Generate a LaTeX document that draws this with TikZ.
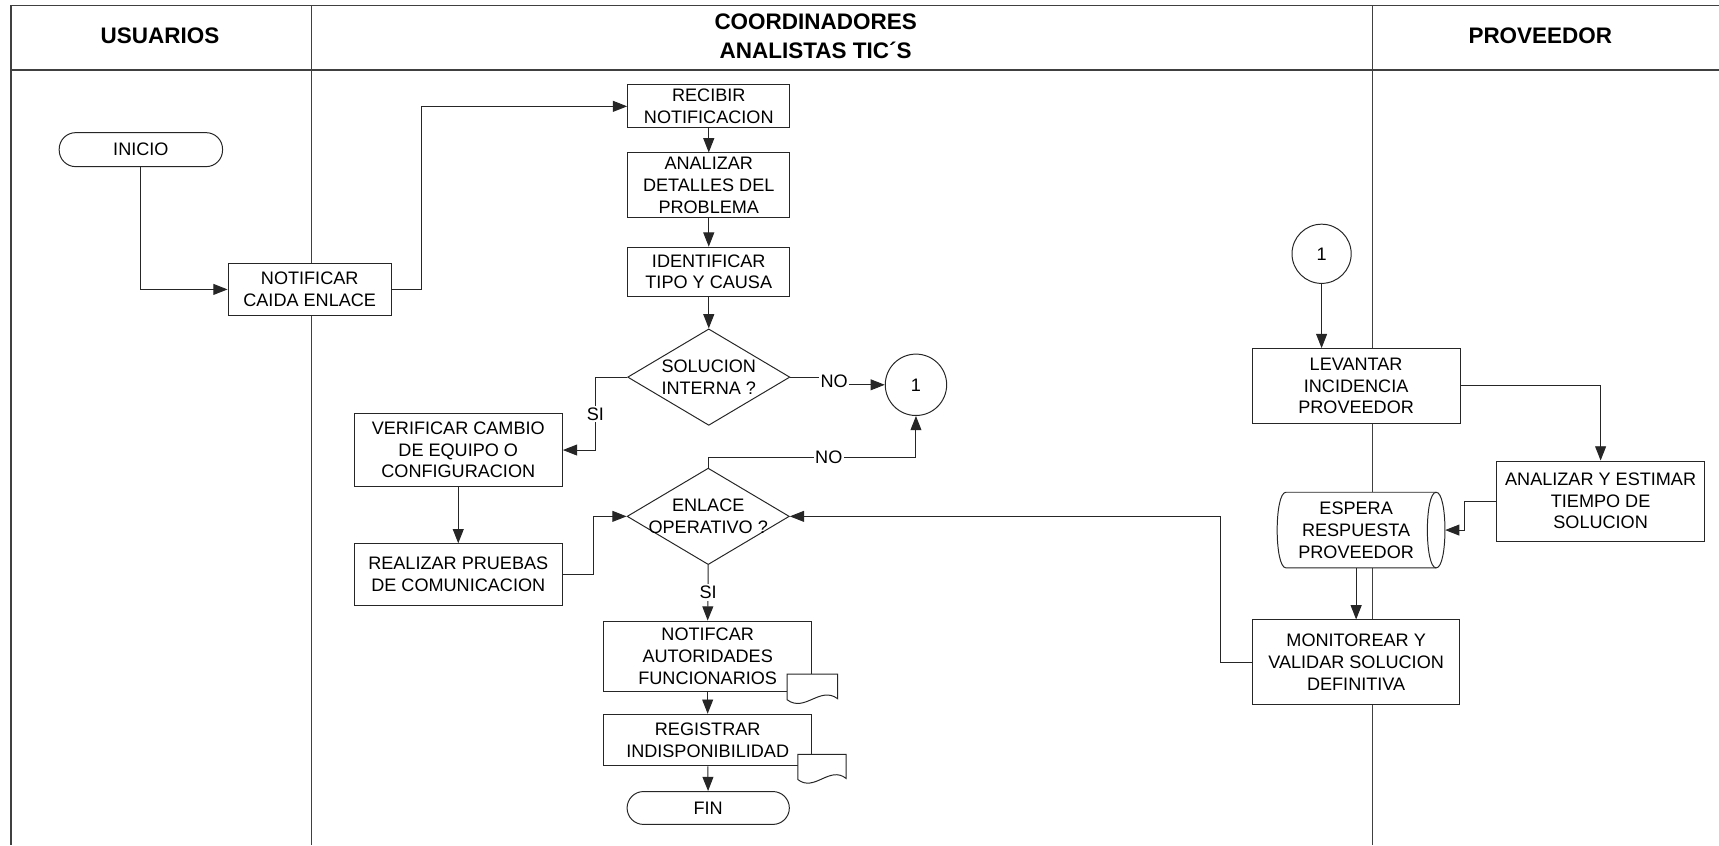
\documentclass[tikz,border=0pt]{standalone}
\usepackage{fontspec}
\setmainfont{Liberation Sans}
\usetikzlibrary{shapes.geometric,arrows.meta,calc}

\newcommand\txtfont{\fontsize{16.5}{19.8}\selectfont}
\newcommand\hdrfont{\fontsize{20.5}{26}\selectfont\bfseries}

\tikzset{
  frame/.style={draw=black!75, line width=1.4pt},
  ln/.style={draw=black!85, line width=0.9pt},
  arr/.style={ln, -{Triangle[length=13pt,width=10pt]}},
  txt/.style={inner sep=0pt, align=center, font=\txtfont},
  box/.style={ln, fill=white, rectangle, inner sep=0pt, align=center, font=\txtfont},
  term/.style={box, rounded corners=15pt},
  dec/.style={ln, fill=white, diamond, inner sep=0pt, minimum width=148pt, minimum height=88pt},
  conn/.style={box, circle},
  lbl/.style={fill=white, inner sep=1.5pt, font=\txtfont},
  hdr/.style={inner sep=0pt, align=center, font=\hdrfont},
}

\begin{document}
\begin{tikzpicture}[x=1pt,y=-1pt]
\useasboundingbox (0,0) rectangle (1568,771);

% lanes and header
\draw[frame] (1568,5) -- (10,5) -- (10,771);
\draw[frame] (10,64) -- (1568,64);
\draw[frame] (284,5) -- (284,771);
\draw[frame] (1252,5) -- (1252,771);

\node[hdr] (hU) at (146,33) {USUARIOS};
\node[hdr] (hC) at (744,33) {COORDINADORES\\ANALISTAS TIC´S};
\node[hdr] (hP) at (1405,33) {PROVEEDOR};

% users lane
\node[term, minimum width=149pt, minimum height=31pt] (inicio) at (128.5,136.5) {INICIO};
\node[box, minimum width=149pt, minimum height=48pt] (notif) at (282.5,264) {NOTIFICAR\\CAIDA ENLACE};

% coordinators lane
\node[box, minimum width=148pt, minimum height=39pt] (recibir) at (646.5,97) {RECIBIR\\NOTIFICACION};
\node[box, minimum width=148pt, minimum height=59pt] (analizar) at (646.5,169) {ANALIZAR\\DETALLES DEL\\PROBLEMA};
\node[box, minimum width=148pt, minimum height=45pt] (ident) at (646.5,248) {IDENTIFICAR\\TIPO Y CAUSA};
\node[dec] (sol) at (646.5,344) {};
\node[txt] (solT) at (sol) {SOLUCION\\INTERNA ?};
\node[conn, minimum size=56pt] (c1) at (835.5,351) {1};
\node[box, minimum width=190pt, minimum height=67pt] (verif) at (418,410.5) {VERIFICAR CAMBIO\\DE EQUIPO O\\CONFIGURACION};
\node[box, minimum width=190pt, minimum height=56pt] (realizar) at (418,524) {REALIZAR PRUEBAS\\DE COMUNICACION};
\node[dec] (enl) at (646,471) {};
\node[txt] (enlT) at (enl) {ENLACE\\OPERATIVO ?};
\node[box, minimum width=190pt, minimum height=64pt] (notifcar) at (645.5,598.5) {NOTIFCAR\\AUTORIDADES\\FUNCIONARIOS};
\node[box, minimum width=190pt, minimum height=47pt] (registrar) at (645.5,675) {REGISTRAR\\INDISPONIBILIDAD};
\node[term, minimum width=148pt, minimum height=30pt] (fin) at (646,737) {FIN};

% document symbols
\draw[ln, fill=white] (718,614.8) -- ++(46,0) -- ++(0,22.5)
  .. controls +(-16,-12) and +(16,12) .. ++(-46,1) -- cycle;
\draw[ln, fill=white] (727.7,688) -- ++(44,0) -- ++(0,22)
  .. controls +(-15,-12) and +(15,12) .. ++(-44,1) -- cycle;

% provider lane
\node[conn, minimum size=54pt] (c2) at (1205.5,231.5) {1};
\node[box, minimum width=190pt, minimum height=68pt] (levantar) at (1237,352) {LEVANTAR\\INCIDENCIA\\PROVEEDOR};
\node[box, minimum width=190pt, minimum height=73pt] (estimar) at (1460,457) {ANALIZAR Y ESTIMAR\\TIEMPO DE\\SOLUCION};
\node[inner sep=0pt, minimum width=153pt, minimum height=69pt] (espera) at (1241.5,483.5) {};
\draw[ln, fill=white] (1173,449) -- (1310,449)
  .. controls (1320.7,449) and (1320.7,518) .. (1310,518) -- (1173,518)
  .. controls (1162.3,518) and (1162.3,449) .. (1173,449) -- cycle;
\draw[ln] (1310,449) .. controls (1299.3,449) and (1299.3,518) .. (1310,518);
\node[txt] (esperaT) at (1237,483.5) {ESPERA\\RESPUESTA\\PROVEEDOR};
\node[box, minimum width=189pt, minimum height=77pt] (monit) at (1237,604) {MONITOREAR Y\\VALIDAR SOLUCION\\DEFINITIVA};

% connectors
\draw[arr] (inicio.south) |- (notif.west);
\draw[arr] (notif.east) -- ++(27,0) |- (recibir.west);
\draw[arr] (recibir) -- (analizar);
\draw[arr] (analizar) -- (ident);
\draw[arr] (ident) -- (sol.north);
\draw[arr] (sol.east) -- ++(40,0) |- (c1.west);
\draw[arr] (sol.west) -- ++(-29,0) |- (verif.east);
\draw[arr] (verif) -- (realizar);
\draw[arr] (realizar.east) -- ++(28,0) |- (enl.west);
\draw[arr] (enl.north) -- ++(0,-9) -| (c1.south);
\draw[arr] (enl.south) -- (notifcar.north);
\draw[arr] (notifcar) -- (registrar);
\draw[arr] (registrar) -- (fin);
\draw[arr] (c2.south) -- (c2.south |- levantar.north);
\draw[arr] (levantar.east) -| (estimar.north);
\draw[arr] (estimar.west) -- ++(-29,0) |- (espera.east);
\draw[arr] (monit.north |- espera.south) -- (monit.north);
\draw[arr] (monit.west) -- ++(-29,0) |- (enl.east);

% branch labels
\node[lbl] (noA) at ($(sol.east)+(40,4)$) {NO};
\node[lbl] (siA) at ($(sol.west)+(-29,34)$) {SI};
\node[lbl] (noB) at ($(enl.north)+(110,-9)$) {NO};
\node[lbl] (siB) at ($(enl.south)+(0,25)$) {SI};
\end{tikzpicture}
\end{document}
